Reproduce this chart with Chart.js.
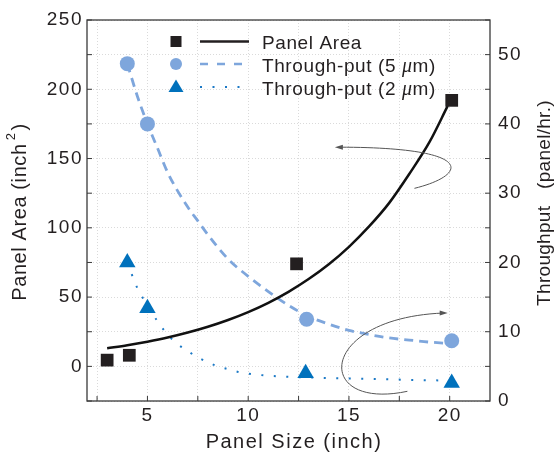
<!DOCTYPE html>
<html>
<head>
<meta charset="utf-8">
<script src="https://cdn.jsdelivr.net/npm/chart.js@4.4.0/dist/chart.umd.min.js"></script>
<style>
  html, body { margin: 0; padding: 0; background: #fff; }
  #wrap { width: 557px; height: 454px; }
</style>
</head>
<body>
<div id="wrap"><canvas id="myChart" width="557" height="454"></canvas></div>
<script>
// measured points
const areaSize = [3, 4.1, 12.4, 20.1];
const areaValue = [4.5, 8, 74, 192];
const tp5Size = [4, 5, 12.9, 20.1];
const tp5Value = [48.7, 40, 11.8, 8.7];
const tp2Size = [4, 5, 12.85, 20.1];
const tp2Value = [20, 13.4, 4, 2.6];

// fitted curves
const areaFitSize = [3, 4, 5, 6, 7, 8, 9, 10, 11, 12, 13, 14, 15, 16, 17, 18, 19, 19.9];
const areaFitValue = [13, 15.2, 17.8, 20.8, 24.4, 28.6, 33.5, 39.2, 45.9, 53.8, 63, 73.7, 86.3, 101, 118, 139, 162, 188];
const tp5FitSize = [4, 4.5, 5, 5.5, 6, 7, 7.5, 8, 9, 10, 11, 12, 13, 14, 15, 16, 17, 18, 19, 20];
const tp5FitValue = [48.7, 44, 40, 36.5, 33, 28, 26, 24, 20.5, 18, 15.8, 13.8, 12.2, 11.1, 10.2, 9.6, 9.1, 8.8, 8.5, 8.3];
const tp2FitSize = [4, 4.5, 5, 5.5, 6, 6.5, 7, 7.5, 8, 8.5, 9, 9.5, 10, 11, 12, 13, 14, 16, 18, 20];
const tp2FitValue = [20, 16.3, 13.8, 11.5, 9.6, 8.2, 7.2, 6.3, 5.6, 5.0, 4.6, 4.2, 3.95, 3.65, 3.5, 3.4, 3.3, 3.2, 3.05, 2.95];

// tick positions
const xTicks = [2.5, 5, 7.5, 10, 12.5, 15, 17.5, 20];
const xLabels = [5, 10, 15, 20];
const areaLabels = [0, 50, 100, 150, 200, 250];
const tpLabels = [0, 10, 20, 30, 40, 50];

const legendNames = ['Panel Area', 'Through-put (5 ', 'Through-put (2 '];

const ink = '#231f20';
const lightBlue = '#7ea6dc';
const deepBlue = '#0071bc';
const dotBlue = '#1b79c6';
const font = '"Liberation Sans", Arial, sans-serif';

function pts(xs, ys) {
    return xs.map((x, i) => ({x: x, y: ys[i]}));
}

const extras = {
    id: 'extras',
    beforeDraw(chart) {
        chart.ctx.letterSpacing = '1.5px';
    },
    afterDatasetsDraw(chart) {
        const ctx = chart.ctx;
        const sx = chart.scales.x, sy = chart.scales.y, sy2 = chart.scales.y2;
        ctx.save();
        ctx.strokeStyle = '#555';
        ctx.fillStyle = '#555';
        ctx.lineWidth = 1;
        ctx.setLineDash([]);

        // arrow to the left axis
        let p0 = [sx.getPixelForValue(14.3), sy.getPixelForValue(158.2)];
        let c1 = [sx.getPixelForValue(21.4), sy.getPixelForValue(158.2)];
        let c2 = [sx.getPixelForValue(20.9), sy.getPixelForValue(138)];
        let p3 = [sx.getPixelForValue(18.25), sy.getPixelForValue(128.5)];
        ctx.beginPath();
        ctx.moveTo(p0[0] + 4, p0[1]);
        ctx.bezierCurveTo(c1[0], c1[1], c2[0], c2[1], p3[0], p3[1]);
        ctx.stroke();
        ctx.beginPath();
        ctx.moveTo(p0[0], p0[1]);
        ctx.lineTo(p0[0] + 8, p0[1] - 2.5);
        ctx.lineTo(p0[0] + 8, p0[1] + 2.5);
        ctx.closePath();
        ctx.fill();

        // arrow to the right axis
        p0 = [sx.getPixelForValue(17.9), sy2.getPixelForValue(1.4)];
        c1 = [sx.getPixelForValue(13.2), sy2.getPixelForValue(-1.5)];
        c2 = [sx.getPixelForValue(13.4), sy2.getPixelForValue(12)];
        p3 = [sx.getPixelForValue(19.9), sy2.getPixelForValue(12.7)];
        ctx.beginPath();
        ctx.moveTo(p0[0], p0[1]);
        ctx.bezierCurveTo(c1[0], c1[1], c2[0], c2[1], p3[0] - 4, p3[1]);
        ctx.stroke();
        ctx.beginPath();
        ctx.moveTo(p3[0], p3[1]);
        ctx.lineTo(p3[0] - 8, p3[1] - 2.5);
        ctx.lineTo(p3[0] - 8, p3[1] + 2.5);
        ctx.closePath();
        ctx.fill();
        ctx.restore();
    },
    afterDraw(chart) {
        const ctx = chart.ctx;
        const a = chart.chartArea;
        const sx = chart.scales.x, sy = chart.scales.y, sy2 = chart.scales.y2;
        ctx.save();
        ctx.setLineDash([]);
        ctx.strokeStyle = '#3a3a3a';
        ctx.lineWidth = 1.3;
        ctx.strokeRect(a.left, a.top, a.right - a.left, a.bottom - a.top);

        // inward ticks
        ctx.lineWidth = 1;
        ctx.beginPath();
        sx.ticks.forEach(t => {
            const px = sx.getPixelForValue(t.value);
            ctx.moveTo(px, a.bottom);
            ctx.lineTo(px, a.bottom - 5);
        });
        sy.ticks.forEach(t => {
            const py = sy.getPixelForValue(t.value);
            ctx.moveTo(a.left, py);
            ctx.lineTo(a.left + 5, py);
        });
        sy2.ticks.forEach(t => {
            const py = sy2.getPixelForValue(t.value);
            ctx.moveTo(a.right, py);
            ctx.lineTo(a.right - 5, py);
        });
        ctx.stroke();

        // legend
        const mx = 176, lx0 = 200, lx1 = 249, tx = 262;
        const rows = [41.5, 64, 87];
        ctx.fillStyle = ink;
        ctx.fillRect(mx - 5.5, rows[0] - 5.5, 11, 11);
        ctx.strokeStyle = ink;
        ctx.lineWidth = 2.5;
        ctx.beginPath();
        ctx.moveTo(lx0, rows[0]);
        ctx.lineTo(lx1, rows[0]);
        ctx.stroke();

        ctx.fillStyle = lightBlue;
        ctx.beginPath();
        ctx.arc(mx, rows[1], 6, 0, Math.PI * 2);
        ctx.fill();
        ctx.strokeStyle = lightBlue;
        ctx.setLineDash([8, 9]);
        ctx.beginPath();
        ctx.moveTo(lx0, rows[1]);
        ctx.lineTo(lx1 + 1, rows[1]);
        ctx.stroke();

        ctx.fillStyle = deepBlue;
        ctx.beginPath();
        ctx.moveTo(mx, rows[2] - 7.5);
        ctx.lineTo(mx + 7.5, rows[2] + 5);
        ctx.lineTo(mx - 7.5, rows[2] + 5);
        ctx.closePath();
        ctx.fill();
        ctx.strokeStyle = dotBlue;
        ctx.lineWidth = 2;
        ctx.setLineDash([2, 10.5]);
        ctx.beginPath();
        ctx.moveTo(lx0, rows[2]);
        ctx.lineTo(lx1, rows[2]);
        ctx.stroke();
        ctx.setLineDash([]);

        ctx.fillStyle = ink;
        ctx.textBaseline = 'alphabetic';
        ctx.textAlign = 'left';
        ctx.letterSpacing = '0.6px';
        const regular = '19px ' + font;
        const italic = 'italic 20px "Liberation Serif", serif';
        const bases = [48.5, 71.5, 95];
        ctx.font = regular;
        ctx.fillText(legendNames[0], tx, bases[0]);
        for (let r = 1; r <= 2; r++) {
            let x = tx;
            ctx.font = regular;
            ctx.fillText(legendNames[r], x, bases[r]);
            x += ctx.measureText(legendNames[r]).width;
            ctx.font = italic;
            ctx.fillText('\u03bc', x, bases[r]);
            x += ctx.measureText('\u03bc').width;
            ctx.font = regular;
            ctx.fillText('m)', x, bases[r]);
        }

        // axis titles
        ctx.textBaseline = 'middle';
        // left
        ctx.save();
        ctx.translate(20, 212);
        ctx.rotate(-Math.PI / 2);
        ctx.letterSpacing = '0.6px';
        ctx.font = '20px ' + font;
        const t1 = 'Panel Area (inch';
        const w1 = ctx.measureText(t1).width;
        ctx.font = '13px ' + font;
        const w2 = ctx.measureText('2').width;
        ctx.font = '20px ' + font;
        const w3 = ctx.measureText(')').width;
        let x = -(w1 + w2 + w3 + 5) / 2;
        ctx.fillText(t1, x, 0);
        x += w1 + 3;
        ctx.font = '13px ' + font;
        ctx.fillText('2', x, -9);
        x += w2 + 2;
        ctx.font = '20px ' + font;
        ctx.fillText(')', x, 0);
        ctx.restore();

        // right
        ctx.save();
        ctx.translate(545, 203);
        ctx.rotate(-Math.PI / 2);
        ctx.letterSpacing = '0.3px';
        ctx.font = '19px ' + font;
        ctx.textAlign = 'center';
        ctx.fillText('Throughput   (panel/hr.)', 0, 0);
        ctx.restore();

        // bottom
        ctx.letterSpacing = '1.5px';
        ctx.font = '20px ' + font;
        ctx.textAlign = 'center';
        ctx.fillText('Panel Size (inch)', 294, 442);
        ctx.restore();
    }
};

const ctx = document.getElementById('myChart');
new Chart(ctx, {
    type: 'scatter',
    data: {
        datasets: [
            {
                label: 'Panel Area', data: pts(areaSize, areaValue), yAxisID: 'y',
                pointStyle: 'rect', pointRadius: 9, backgroundColor: ink, borderColor: ink, borderWidth: 0
            },
            {
                label: 'Through-put (5 um)', data: pts(tp5Size, tp5Value), yAxisID: 'y2',
                pointStyle: 'circle', pointRadius: 7.5, backgroundColor: lightBlue, borderColor: lightBlue, borderWidth: 0
            },
            {
                label: 'Through-put (2 um)', data: pts(tp2Size, tp2Value), yAxisID: 'y2',
                pointStyle: 'triangle', pointRadius: 9.5, backgroundColor: deepBlue, borderColor: deepBlue, borderWidth: 0
            },
            {
                label: 'area fit', data: pts(areaFitSize, areaFitValue), yAxisID: 'y',
                showLine: true, pointRadius: 0, borderColor: '#111', borderWidth: 2.5,
                tension: 0.4, cubicInterpolationMode: 'monotone'
            },
            {
                label: '5um fit', data: pts(tp5FitSize, tp5FitValue), yAxisID: 'y2',
                showLine: true, pointRadius: 0, borderColor: lightBlue, borderWidth: 2.8,
                borderDash: [9, 6], tension: 0.4, cubicInterpolationMode: 'monotone'
            },
            {
                label: '2um fit', data: pts(tp2FitSize, tp2FitValue), yAxisID: 'y2',
                showLine: true, pointRadius: 0, borderColor: dotBlue, borderWidth: 2,
                borderDash: [2, 10.5], tension: 0.4, cubicInterpolationMode: 'monotone'
            }
        ]
    },
    options: {
        responsive: false,
        animation: false,
        devicePixelRatio: 1,
        layout: {padding: {top: 20, left: 0, right: 0, bottom: 0}},
        plugins: {legend: {display: false}, tooltip: {enabled: false}},
        scales: {
            x: {
                type: 'linear', min: 2, max: 22,
                afterBuildTicks: s => { s.ticks = xTicks.map(v => ({value: v})); },
                afterFit: s => { s.height = 53; },
                grid: {color: '#dadada', lineWidth: 1, drawTicks: false},
                border: {display: false, dash: [1, 2]},
                ticks: {
                    autoSkip: false, maxRotation: 0, padding: 3, color: ink,
                    font: {family: font, size: 19},
                    callback: v => xLabels.includes(v) ? String(v) : ''
                }
            },
            y: {
                type: 'linear', position: 'left', min: -25, max: 250,
                ticks: {
                    stepSize: 25, autoSkip: false, padding: 4, color: ink,
                    font: {family: font, size: 19},
                    callback: v => areaLabels.includes(v) ? String(v) : ''
                },
                afterFit: s => { s.width = 87; },
                grid: {color: '#dadada', lineWidth: 1, drawTicks: false},
                border: {display: false, dash: [1, 2]}
            },
            y2: {
                type: 'linear', position: 'right', min: 0, max: 55,
                ticks: {
                    stepSize: 5, autoSkip: false, padding: 8, color: ink,
                    font: {family: font, size: 19},
                    callback: v => tpLabels.includes(v) ? String(v) : ''
                },
                afterFit: s => { s.width = 67; },
                grid: {drawOnChartArea: false, drawTicks: false},
                border: {display: false}
            }
        }
    },
    plugins: [extras]
});
</script>
</body>
</html>
